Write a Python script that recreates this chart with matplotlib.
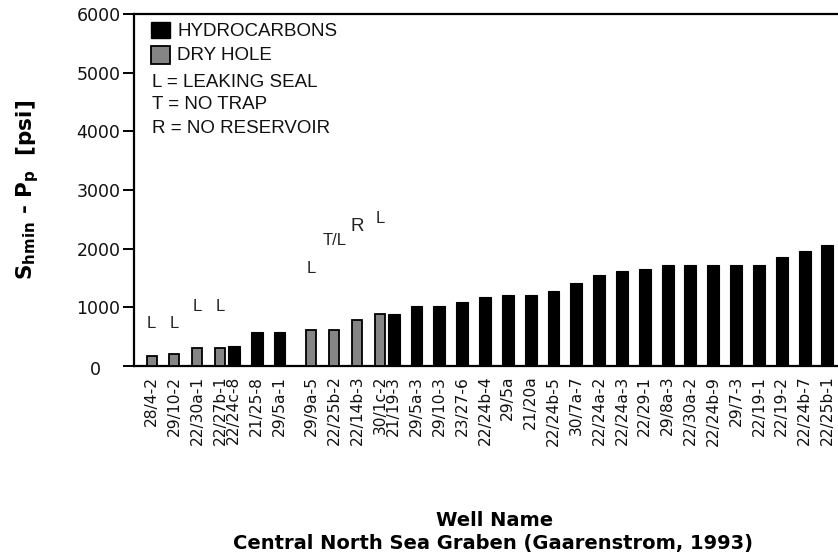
import matplotlib
matplotlib.use("Agg")
import matplotlib.pyplot as plt
import matplotlib.transforms as mtransforms
from matplotlib.patches import Rectangle
import numpy as np

# ---------------- data ----------------
wells = ["28/4-2", "29/10-2", "22/30a-1", "22/27b-1", "22/24c-8", "21/25-8", "29/5a-1",
         "29/9a-5", "22/25b-2", "22/14b-3", "30/1c-2", "21/19-3", "29/5a-3", "29/10-3",
         "23/27-6", "22/24b-4", "29/5a", "21/20a", "22/24b-5", "30/7a-7", "22/24a-2",
         "22/24a-3", "22/29-1", "29/8a-3", "22/30a-2", "22/24b-9", "29/7-3", "22/19-1",
         "22/19-2", "22/24b-7", "22/25b-1"]
values = [175, 210, 312, 315, 346, 585, 585,
          614, 614, 784, 888, 890, 1028, 1028,
          1097, 1171, 1205, 1205, 1273, 1409, 1551,
          1614, 1648, 1727, 1727, 1727, 1727, 1727,
          1858, 1960, 2062]
is_dry = [1, 1, 1, 1, 0, 0, 0,
          1, 1, 1, 1, 0, 0, 0,
          0, 0, 0, 0, 0, 0, 0,
          0, 0, 0, 0, 0, 0, 0,
          0, 0, 0]
ann_idx = [0, 1, 2, 3, 7, 8, 9, 10]
ann_text = ["L", "L", "L", "L", "L", "T/L", "R", "L"]
ann_y = [720, 720, 1020, 1020, 1670, 2140, 2370, 2520]
yticks = [0, 1000, 2000, 3000, 4000, 5000, 6000]
ytick_labels = ["0", "1000", "2000", "3000", "4000", "5000", "6000"]

# ---------------- figure ----------------
W, H = 838, 556
fig = plt.figure(figsize=(W / 100, H / 100), dpi=100)
fig.patch.set_facecolor("white")

def fx(x):
    return x / W

def fy(y):
    return 1 - y / H

ax_l, ax_r, ax_t, ax_b = 134.3, 838, 14, 366
ax = fig.add_axes([fx(ax_l), fy(ax_b), fx(ax_r - ax_l), (ax_b - ax_t) / H])

dry = np.array(is_dry, dtype=bool)
vals = np.array(values, dtype=float)
idx = np.arange(len(wells), dtype=float)
xpos = idx + np.where(dry, 0.4, 0.0)

ax.bar(xpos[~dry], vals[~dry], width=0.52, color="black", edgecolor="black", linewidth=0.8, zorder=3)
ax.bar(xpos[dry], vals[dry], width=0.44, color="#858585", edgecolor="black", linewidth=1.3, zorder=3)

for i, t, yv in zip(ann_idx, ann_text, ann_y):
    ax.text(xpos[i], yv, t, ha="center", va="center", fontsize=12 if t != "R" else 13.5,
            family="Liberation Sans", color="#222222")

unit = 22.83
ax.set_xlim((ax_l - 142.5) / unit, (ax_r - 142.5) / unit)
ax.set_ylim(0, 6000)

for s in ["left", "top", "bottom"]:
    ax.spines[s].set_linewidth(1.6)
ax.spines["right"].set_visible(False)

ax.set_yticks(yticks)
ax.set_yticklabels(ytick_labels, fontsize=12.5, family="DejaVu Sans", color="#111111")
ax.tick_params(axis="y", length=8, width=1.4, pad=2)
lbl0 = ax.get_yticklabels()[0]
lbl0.set_transform(lbl0.get_transform() + mtransforms.ScaledTranslation(-0.2, -0.02, fig.dpi_scale_trans))

ax.set_xticks(xpos)
ax.set_xticklabels(wells, rotation=90, fontsize=11.2, family="DejaVu Sans", color="#111111")
ax.tick_params(axis="x", length=0, pad=7)

# ---------------- legend ----------------
fig.patches.append(Rectangle((fx(150.7), fy(38)), fx(19.3), 16.3 / H, transform=fig.transFigure,
                             facecolor="black", edgecolor="black", linewidth=1))
fig.patches.append(Rectangle((fx(150.7), fy(64)), fx(19.3), 18 / H, transform=fig.transFigure,
                             facecolor="#858585", edgecolor="black", linewidth=1.3))
leg_font = dict(family="Liberation Sans", fontsize=13.5, va="center", ha="left", color="#111111")
fig.text(fx(177), fy(31.5), "HYDROCARBONS", **leg_font)
fig.text(fx(177), fy(55), "DRY HOLE", **leg_font)
fig.text(fx(152), fy(82.5), "L = LEAKING SEAL", **leg_font)
fig.text(fx(152), fy(105), "T = NO TRAP", **leg_font)
fig.text(fx(152), fy(128.5), "R = NO RESERVOIR", **leg_font)

# ---------------- axis titles ----------------
fig.text(fx(28), fy(190), r"$\mathbf{S}_{\mathbf{hmin}}$ - $\mathbf{P}_{\mathbf{p}}$  [psi]",
         rotation=90, ha="center", va="center", fontsize=15.5, fontweight="bold", family="DejaVu Sans")
fig.text(fx(495), fy(520), "Well Name", ha="center", va="center", fontsize=14,
         fontweight="bold", family="DejaVu Sans")
fig.text(fx(493), fy(543), "Central North Sea Graben (Gaarenstrom, 1993)", ha="center", va="center",
         fontsize=14, fontweight="bold", family="DejaVu Sans")

fig.savefig("out.png", dpi=100, facecolor="white")
